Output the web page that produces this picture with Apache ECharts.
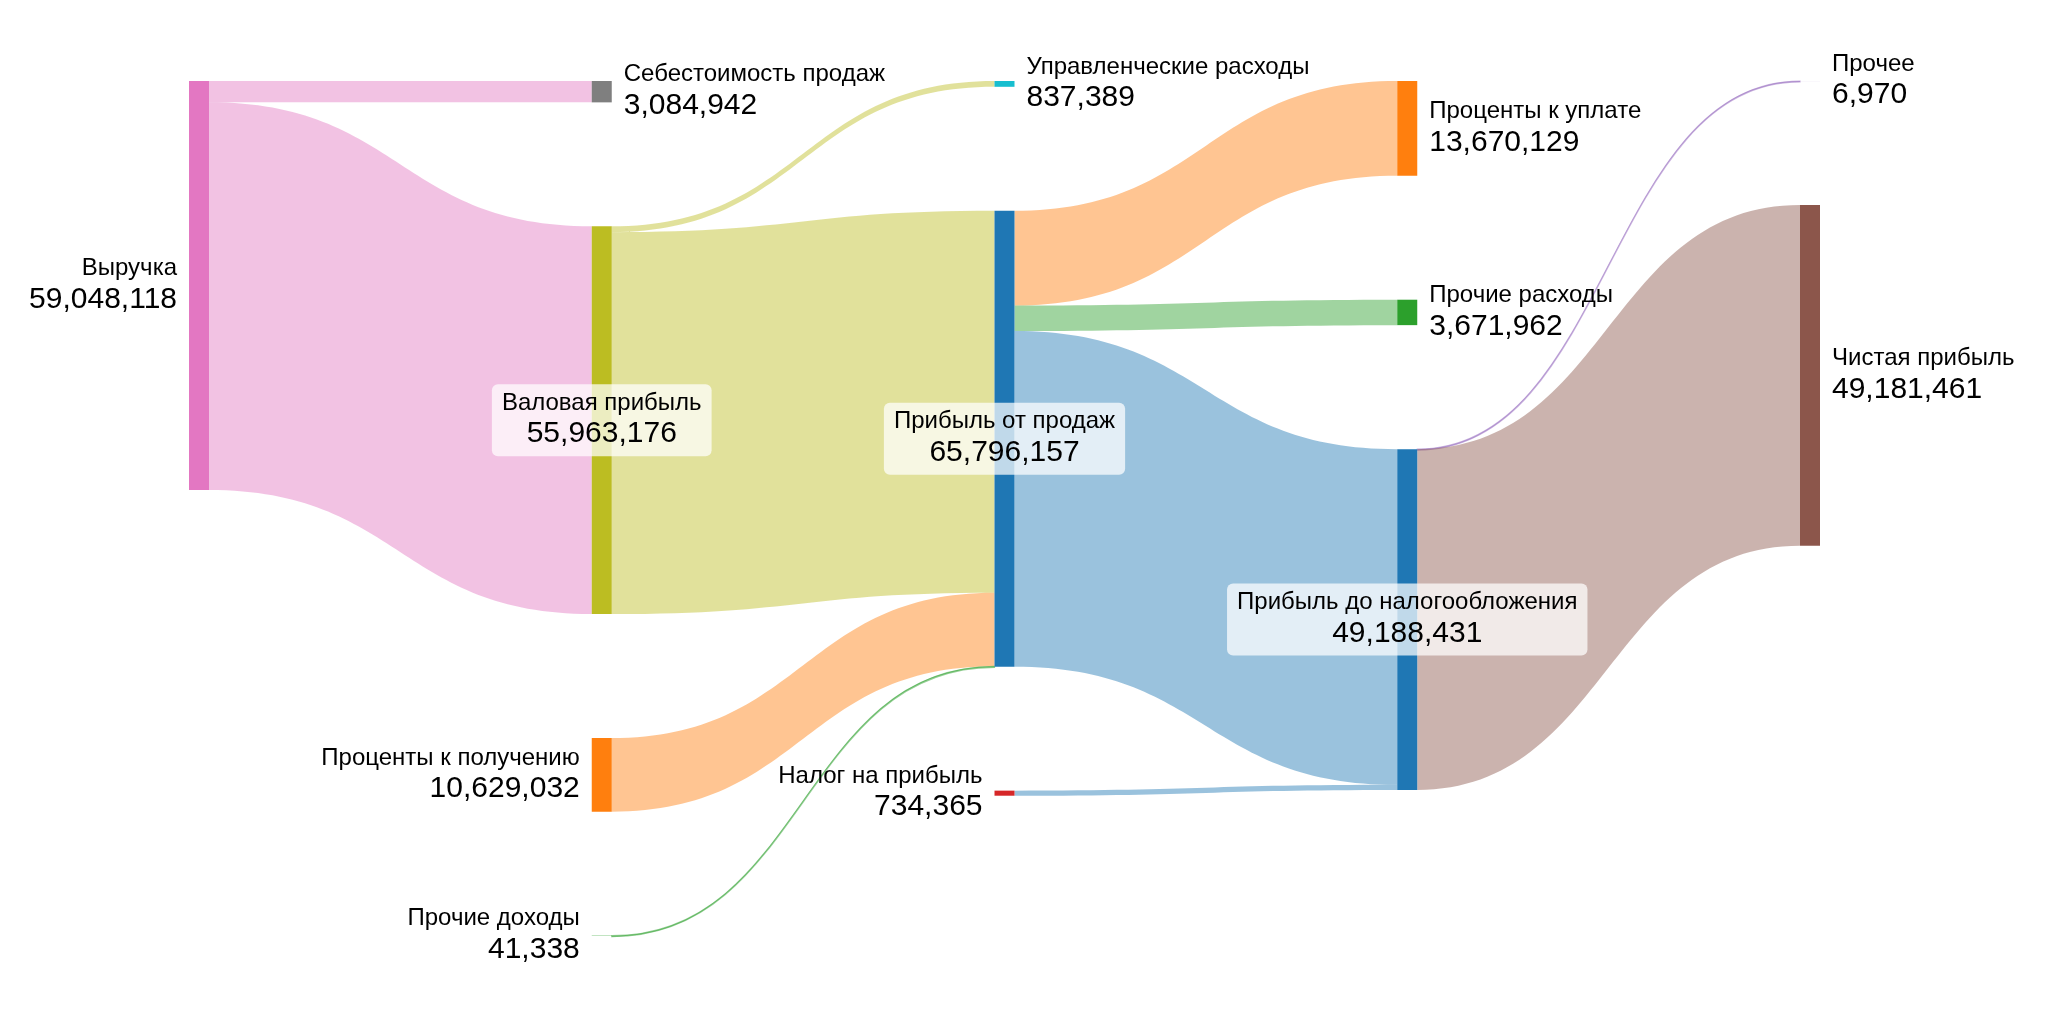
<!DOCTYPE html>
<html>
<head>
<meta charset="utf-8">
<script src="https://cdn.jsdelivr.net/npm/echarts@6/dist/echarts.min.js"></script>
<style>
html, body { margin: 0; padding: 0; background: #fff; }
#main { width: 2048px; height: 1024px; }
</style>
</head>
<body>
<div id="main"></div>
<script>
// nodes of the flow, column by column (order inside a column = order top to bottom)
var nodeNames = [
  "Выручка",
  "Себестоимость продаж", "Валовая прибыль", "Проценты к получению", "Прочие доходы",
  "Управленческие расходы", "Прибыль от продаж", "Налог на прибыль",
  "Проценты к уплате", "Прочие расходы", "Прибыль до налогообложения",
  "Прочее", "Чистая прибыль"
];
var nodeStage = [0, 1, 1, 1, 1, 2, 2, 2, 3, 3, 3, 4, 4];

// links (index into nodeNames)
var linkFrom = [0, 0, 2, 2, 3, 4, 6, 6, 6, 7, 10, 10];
var linkTo = [1, 2, 5, 6, 6, 6, 8, 9, 10, 10, 11, 12];
var linkValue = [
  3084942, 55963176, 837389, 55125787, 10629032, 41338,
  13670129, 3671962, 48454066, 734365, 6970, 49181461
];

var nodeColors = [
  "#e377c2",
  "#7f7f7f", "#bcbd22", "#ff7f0e", "#2ca02c",
  "#17becf", "#1f77b4", "#d62728",
  "#ff7f0e", "#2ca02c", "#1f77b4",
  "#9467bd", "#8c564b"
];
var linkColors = [
  "#e377c2", "#e377c2", "#bcbd22", "#bcbd22", "#ff7f0e", "#2ca02c",
  "#ff7f0e", "#2ca02c", "#1f77b4", "#1f77b4", "#9467bd", "#8c564b"
];

var leftLabels = { "Выручка": 1, "Проценты к получению": 1, "Прочие доходы": 1, "Налог на прибыль": 1 };
var boxLabels = { "Валовая прибыль": 1, "Прибыль от продаж": 1, "Прибыль до налогообложения": 1 };

var fmt = function (v) {
  return Math.round(v).toString().replace(/\B(?=(\d{3})+(?!\d))/g, ",");
};

var nodes = [];
for (var i = 0; i < nodeNames.length; i++) {
  var nd = {
    name: nodeNames[i],
    depth: nodeStage[i],
    itemStyle: { color: nodeColors[i], opacity: 1 }
  };
  if (leftLabels[nodeNames[i]]) {
    nd.label = { position: "left" };
  } else if (boxLabels[nodeNames[i]]) {
    nd.label = {
      position: "inside",
      backgroundColor: "rgba(255,255,255,0.72)",
      borderRadius: 6,
      padding: [5, 10]
    };
  }
  nodes.push(nd);
}

var links = [];
for (var j = 0; j < linkFrom.length; j++) {
  var thin = linkValue[j] < 100000;
  links.push({
    source: nodeNames[linkFrom[j]],
    target: nodeNames[linkTo[j]],
    value: linkValue[j],
    lineStyle: {
      color: linkColors[j],
      opacity: thin ? 0.5 : 0.45,
      borderColor: linkColors[j],
      borderWidth: thin ? 1.2 : 0
    }
  });
}

var chart = echarts.init(document.getElementById("main"));
chart.setOption({
  backgroundColor: "#fff",
  animation: false,
  series: [{
    type: "sankey",
    left: 189,
    top: 81,
    right: 228,
    bottom: 88,
    nodeWidth: 20,
    nodeGap: 124,
    nodeAlign: "left",
    // keep the given top-to-bottom order in every column
    layoutIterations: 0,
    draggable: false,
    emphasis: { disabled: true },
    label: {
      show: true,
      position: "right",
      distance: 12,
      color: "#000",
      fontFamily: "Liberation Sans, Arial, sans-serif",
      formatter: function (p) {
        return "{n|" + p.name + "}\n{v|" + fmt(p.value) + "}";
      },
      rich: {
        n: { fontSize: 24, lineHeight: 28, color: "#000", fontFamily: "Liberation Sans" },
        v: { fontSize: 30, lineHeight: 34, color: "#000", fontFamily: "Liberation Sans" }
      }
    },
    lineStyle: { curveness: 0.5 },
    data: nodes,
    links: links
  }]
});
</script>
</body>
</html>
